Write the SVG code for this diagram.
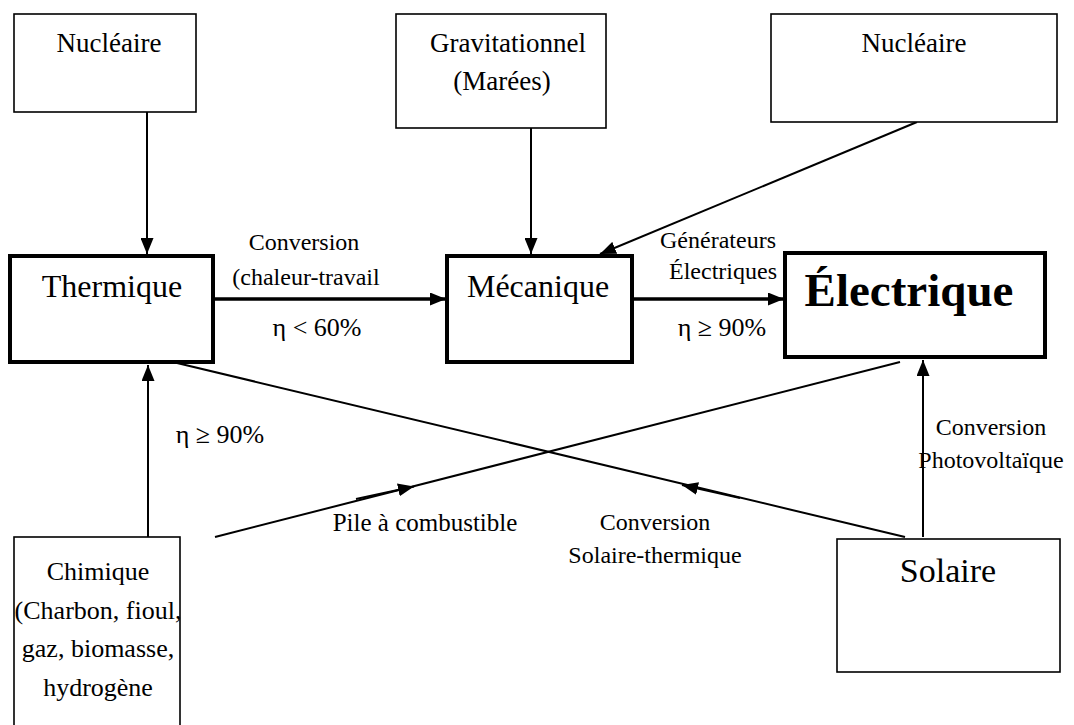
<svg xmlns="http://www.w3.org/2000/svg" width="1074" height="725" viewBox="0 0 1074 725">
<style>
.box{fill:#fff;stroke:#000;stroke-width:1.6}
.thick{fill:#fff;stroke:#000;stroke-width:4}
.t{font-family:'Liberation Serif','DejaVu Serif',serif;font-size:27px;fill:#000;text-anchor:middle}
.m{font-family:'Liberation Serif','DejaVu Serif',serif;font-size:32px;fill:#000;text-anchor:middle}
.s{font-family:'Liberation Serif','DejaVu Serif',serif;font-size:24px;fill:#000;text-anchor:middle}
.e{font-family:'Liberation Serif','DejaVu Serif',serif;font-size:26px;fill:#000;text-anchor:middle}
.c{stroke:#000;stroke-width:2;fill:none}
.h{stroke:#000;stroke-width:3.5;fill:none}
</style>
<defs>
<marker id="ah" viewBox="0 0 16 13" refX="16" refY="6.5" markerWidth="16" markerHeight="13" markerUnits="userSpaceOnUse" orient="auto">
<path d="M0,0 L16,6.5 L0,13 z" fill="#000"/>
</marker>
</defs>
<g id="connectors">
<line class="c" x1="147" y1="112" x2="147" y2="254" marker-end="url(#ah)"/>
<line class="c" x1="531" y1="128" x2="531" y2="254" marker-end="url(#ah)"/>
<line class="c" x1="917" y1="122" x2="600" y2="254" marker-end="url(#ah)"/>
<line class="h" x1="213" y1="299" x2="446" y2="299" marker-end="url(#ah)"/>
<line class="h" x1="632" y1="299" x2="784" y2="299" marker-end="url(#ah)"/>
<line class="c" x1="148" y1="537" x2="148" y2="365" marker-end="url(#ah)"/>
<line class="c" x1="923" y1="537" x2="923" y2="360" marker-end="url(#ah)"/>
<line class="c" x1="215" y1="537" x2="900" y2="362"/>
<line class="c" x1="905" y1="537" x2="177" y2="363"/>
<line class="c" x1="356" y1="499" x2="414" y2="486.5" marker-end="url(#ah)"/>
<line class="c" x1="740" y1="498" x2="682" y2="485" marker-end="url(#ah)"/>
</g>
<g id="nucleaire1">
<rect class="box" x="14" y="14" width="182" height="98"/>
<text class="t" x="109" y="52">Nucléaire</text>
</g>
<g id="gravitationnel">
<rect class="box" x="396" y="14" width="210" height="114"/>
<text class="t" x="508" y="52">Gravitationnel</text>
<text class="t" x="502" y="90">(Marées)</text>
</g>
<g id="nucleaire2">
<rect class="box" x="771" y="14" width="286" height="108"/>
<text class="t" x="914" y="52">Nucléaire</text>
</g>
<g id="thermique">
<rect class="thick" x="10" y="256" width="203" height="106"/>
<text class="m" x="112" y="297">Thermique</text>
</g>
<g id="mecanique">
<rect class="thick" x="447" y="256" width="185" height="106"/>
<text class="m" x="538" y="297">Mécanique</text>
</g>
<g id="electrique">
<rect class="thick" x="785" y="253" width="260" height="104"/>
<text class="m" x="909" y="306" style="font-size:47px;font-weight:bold">Électrique</text>
</g>
<g id="chimique">
<rect class="box" x="14" y="537" width="166" height="200"/>
<text class="e" x="98" y="580">Chimique</text>
<text class="e" x="98" y="619">(Charbon, fioul,</text>
<text class="e" x="98" y="657">gaz, biomasse,</text>
<text class="e" x="98" y="696">hydrogène</text>
</g>
<g id="solaire">
<rect class="box" x="837" y="539" width="223" height="133"/>
<text class="m" x="948" y="582" style="font-size:34px">Solaire</text>
</g>
<g id="labels">
<text class="s" x="304" y="250">Conversion</text>
<text class="s" x="306" y="285">(chaleur-travail</text>
<text class="e" x="317" y="336">η &lt; 60%</text>
<text class="s" x="718" y="248">Générateurs</text>
<text class="s" x="723" y="279">Électriques</text>
<text class="e" x="722" y="336">η ≥ 90%</text>
<text class="e" x="220" y="443">η ≥ 90%</text>
<text class="s" x="425" y="531" style="font-size:25px">Pile à combustible</text>
<text class="s" x="655" y="530">Conversion</text>
<text class="s" x="655" y="563">Solaire-thermique</text>
<text class="s" x="991" y="435">Conversion</text>
<text class="s" x="991" y="468">Photovoltaïque</text>
</g>
</svg>
